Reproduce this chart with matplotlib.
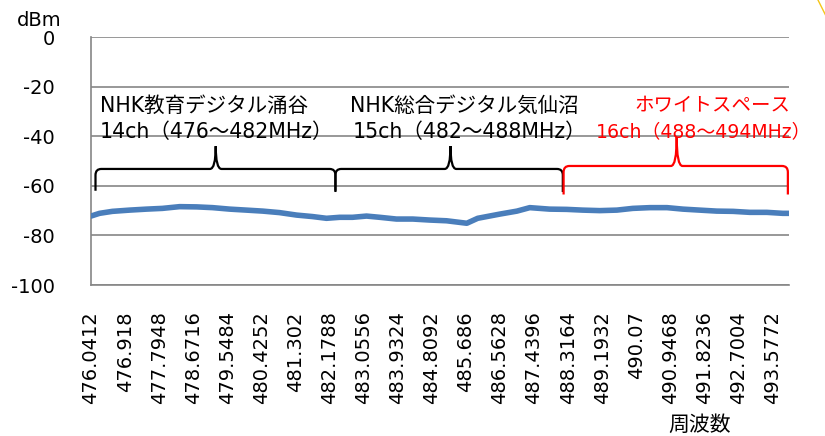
import matplotlib
matplotlib.use('Agg')
import matplotlib.pyplot as plt
from matplotlib.path import Path
from matplotlib.patches import PathPatch
from matplotlib.lines import Line2D

plt.rcParams['font.family'] = ['DejaVu Sans', 'Noto Sans CJK JP']

# measured spectrum (MHz, dBm)
freq = [476.0412, 476.26, 476.59, 477.03, 477.47, 477.88, 478.32, 478.76, 479.17, 479.61,
        480.04, 480.46, 480.89, 481.33, 481.74, 482.10, 482.44, 482.77, 483.13, 483.47,
        483.90, 484.32, 484.75, 485.19, 485.71, 485.99, 486.56, 487.00, 487.33, 487.84,
        488.28, 488.69, 489.13, 489.57, 489.98, 490.42, 490.86, 491.27, 491.70, 492.14,
        492.56, 492.99, 493.43, 493.84, 494.00]
level = [-72.2, -71.1, -70.3, -69.8, -69.4, -69.1, -68.4, -68.5, -68.8, -69.4,
         -69.8, -70.2, -70.8, -71.8, -72.4, -73.1, -72.7, -72.7, -72.2, -72.7,
         -73.4, -73.4, -73.8, -74.1, -75.1, -73.1, -71.4, -70.2, -68.8, -69.4,
         -69.5, -69.8, -70.0, -69.8, -69.1, -68.8, -68.8, -69.4, -69.8, -70.2,
         -70.3, -70.7, -70.7, -71.1, -71.1]

xtick_labels = ['476.0412', '476.918', '477.7948', '478.6716', '479.5484', '480.4252',
                '481.302', '482.1788', '483.0556', '483.9324', '484.8092', '485.686',
                '486.5628', '487.4396', '488.3164', '489.1932', '490.07', '490.9468',
                '491.8236', '492.7004', '493.5772']
yticks = [0, -20, -40, -60, -80, -100]

# channel braces: (start, peak, end, name, band, colour)
channels = [
    (476.157, 479.25, 482.33, 'NHK教育デジタル涌谷', '14ch（476～482MHz）', 'black'),
    (482.33, 485.29, 488.18, 'NHK総合デジタル気仙沼', '15ch（482～488MHz）', 'black'),
    (488.20, 491.11, 493.97, 'ホワイトスペース', '16ch（488～494MHz）', 'red'),
]


def brace(ax, x0, xm, x1, yf, yb, yt, color):
    dx = 0.15
    dy = 2.5
    verts = [(x0, yb), (x0, yf - dy), (x0, yf), (x0 + dx, yf),
             (xm - dx, yf), (xm, yf), (xm, yt),
             (xm, yf), (xm + dx, yf),
             (x1 - dx, yf), (x1, yf), (x1, yf - dy), (x1, yb)]
    codes = [Path.MOVETO, Path.LINETO, Path.CURVE3, Path.CURVE3,
             Path.LINETO, Path.CURVE3, Path.CURVE3,
             Path.CURVE3, Path.CURVE3,
             Path.LINETO, Path.CURVE3, Path.CURVE3, Path.LINETO]
    ax.add_patch(PathPatch(Path(verts, codes), fill=False, edgecolor=color,
                           linewidth=1.6, clip_on=False, zorder=4))


fig = plt.figure(figsize=(8.25, 4.36), dpi=100)
ax = fig.add_axes([0.1103, 0.3463, 0.8461, 0.5688])

ax.plot(freq, level, color='#4A7EBB', linewidth=4.0, solid_capstyle='round', zorder=3)

ax.set_xlim(476.0412, 494.0)
ax.set_ylim(-100, 0)
ax.set_yticks(yticks)
ax.set_yticklabels([str(v) for v in yticks], fontsize=14)
ax.set_xticks([float(s) for s in xtick_labels])
ax.set_xticklabels(xtick_labels, rotation=90, fontsize=14, va='top')
ax.tick_params(axis='both', length=0)
ax.tick_params(axis='y', pad=26)
ax.tick_params(axis='x', pad=19)

for y in yticks:
    ax.axhline(y, color='#868686', linewidth=1.2, zorder=1)
for side in ['top', 'right']:
    ax.spines[side].set_visible(False)
ax.spines['left'].set_color('#868686')
ax.spines['left'].set_linewidth(1.2)
ax.spines['bottom'].set_color('#868686')
ax.spines['bottom'].set_linewidth(1.2)

# braces and labels
brace(ax, channels[0][0], channels[0][1], channels[0][2], -53.2, -62.0, -44.0, 'black')
brace(ax, channels[1][0], channels[1][1], channels[1][2], -53.2, -62.5, -44.0, 'black')
brace(ax, channels[2][0], channels[2][1], channels[2][2], -52.0, -63.5, -40.3, 'red')

ax.text(476.26, -27.8, channels[0][3], color='black', fontsize=14.8, va='center', ha='left')
ax.text(476.26, -38.3, channels[0][4], color='black', fontsize=14.8, va='center', ha='left')
ax.text(482.70, -27.8, channels[1][3], color='black', fontsize=14.8, va='center', ha='left')
ax.text(482.77, -38.3, channels[1][4], color='black', fontsize=14.8, va='center', ha='left')
ax.text(490.03, -27.8, channels[2][3], color='red', fontsize=14, va='center', ha='left')
ax.text(489.03, -38.3, channels[2][4], color='red', fontsize=13.6, va='center', ha='left',
        clip_on=False)

fig.text(39 / 825, 1 - 21 / 436, 'dBm', fontsize=14, ha='center', va='center')
fig.text(700 / 825, 1 - 425 / 436, '周波数', fontsize=15, ha='center', va='center')

# edge of a shape cut off at the top right
fig.add_artist(Line2D([818 / 825, 826 / 825], [1.0, 1 - 16 / 436], color='#F5C518', linewidth=1.0))

plt.savefig('out.png', dpi=100)
plt.close()
